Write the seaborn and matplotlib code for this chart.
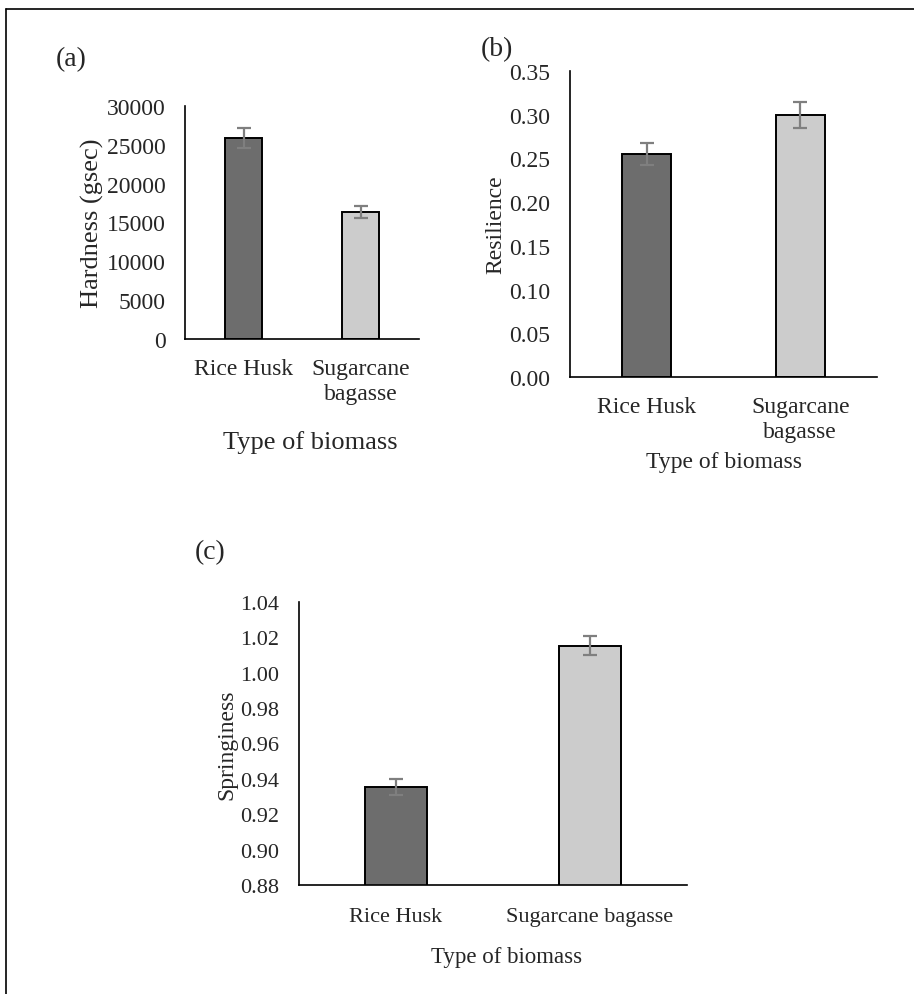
import matplotlib
matplotlib.use("Agg")
import matplotlib.pyplot as plt
from matplotlib.lines import Line2D
import seaborn as sns
import pandas as pd

# datos
biomass = ["Rice Husk", "Sugarcane\nbagasse"]
biomass_c = ["Rice Husk", "Sugarcane bagasse"]
hardness = [25900, 16350]
hardness_err = [1300, 800]
resilience = [0.255, 0.300]
resilience_err = [0.0125, 0.015]
springiness = [0.9355, 1.0153]
springiness_err = [0.0047, 0.0053]

colores = ["#6d6d6d", "#cccccc"]

sns.set_style("white")
plt.rcParams["font.family"] = ["Liberation Serif", "DejaVu Serif"]

W, H = 914, 995
fig = plt.figure(figsize=(W / 100, H / 100), dpi=100)


def panel(rect, cats, vals, errs, ylim, yticks, yfmt, ylabel, ylsize, ticksize, xpad, xl_pos, xlsize, letra, letra_pos):
    ax = fig.add_axes(rect)
    df = pd.DataFrame({"tipo": cats, "valor": vals})
    sns.barplot(data=df, x="tipo", y="valor", hue="tipo", palette=colores, legend=False,
                width=0.32, edgecolor="black", linewidth=1.4, errorbar=None, ax=ax)
    ax.errorbar(range(len(cats)), vals, yerr=errs, fmt="none", ecolor="#7f7f7f",
                elinewidth=1.6, capsize=5, capthick=1.6, zorder=5)
    ax.set_xlim(-0.5, len(cats) - 0.5)
    ax.set_ylim(*ylim)
    ax.set_yticks(yticks)
    ax.set_yticklabels([yfmt.format(t) for t in yticks])
    for s in ["top", "right"]:
        ax.spines[s].set_visible(False)
    for s in ["left", "bottom"]:
        ax.spines[s].set_linewidth(1.2)
        ax.spines[s].set_color("black")
    ax.tick_params(axis="y", length=0, pad=14, labelsize=ticksize)
    ax.tick_params(axis="x", length=0, pad=xpad, labelsize=ticksize)
    ax.set_ylabel(ylabel, fontsize=ylsize, labelpad=2)
    ax.set_xlabel("Type of biomass", fontsize=xlsize)
    ax.xaxis.set_label_coords(*xl_pos)
    ax.xaxis.label.set_va("center")
    fig.text(letra_pos[0] / W, 1 - letra_pos[1] / H, letra, fontsize=20, ha="center", va="center")
    return ax


# (a) dureza
panel([185 / W, 1 - 340 / H, 234 / W, 233 / H], biomass, hardness, hardness_err,
      (0, 30000), [0, 5000, 10000, 15000, 20000, 25000, 30000], "{:d}",
      "Hardness (gsec)", 19, 17, 14, (0.534, -0.438), 19, "(a)", (71, 60))

# (b) resiliencia
panel([570 / W, 1 - 378 / H, 307 / W, 306 / H], biomass, resilience, resilience_err,
      (0, 0.35), [0, 0.05, 0.10, 0.15, 0.20, 0.25, 0.30, 0.35], "{:.2f}",
      "Resilience", 17, 17, 14, (0.5, -0.275), 17, "(b)", (497, 50))

# (c) elasticidad
panel([299 / W, 1 - 886 / H, 388 / W, 283 / H], biomass_c, springiness, springiness_err,
      (0.88, 1.04), [0.88, 0.90, 0.92, 0.94, 0.96, 0.98, 1.00, 1.02, 1.04], "{:.2f}",
      "Springiness", 17, 16, 16, (0.536, -0.251), 16.5, "(c)", (210, 553))

# marco de la figura (solo arriba e izquierda)
fig.add_artist(Line2D([6 / W, 1], [1 - 10 / H, 1 - 10 / H], color="black", lw=1.2))
fig.add_artist(Line2D([6 / W, 6 / W], [0, 1 - 10 / H], color="black", lw=1.2))

fig.savefig("out.png", dpi=100)
